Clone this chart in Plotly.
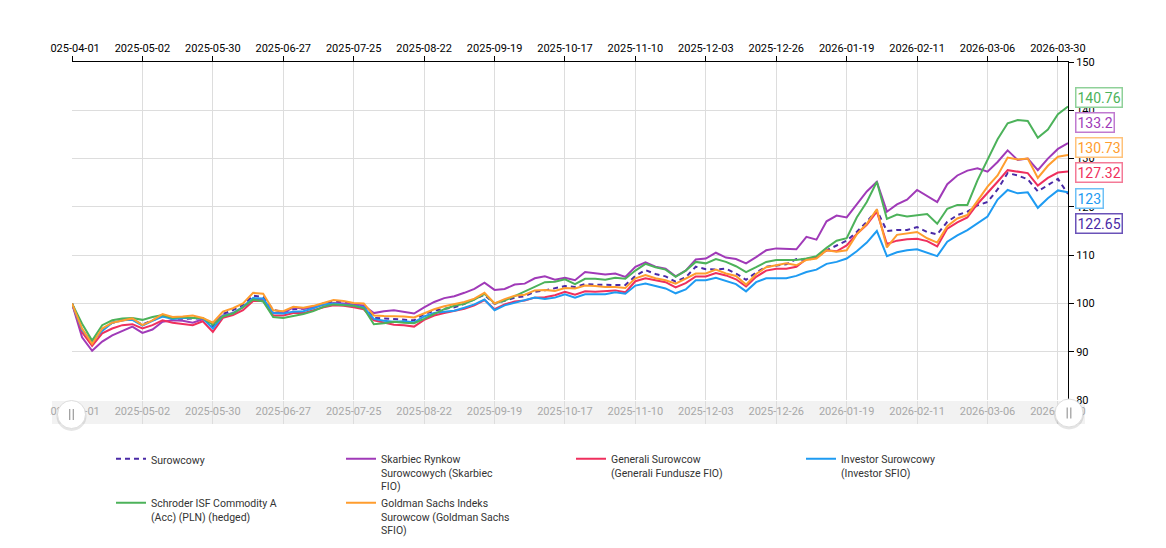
import pandas as pd
import plotly.graph_objects as go

# ---------------- data ----------------
tick_dates = ["2025-04-01", "2025-05-02", "2025-05-30", "2025-06-27", "2025-07-25",
              "2025-08-22", "2025-09-19", "2025-10-17", "2025-11-10", "2025-12-03",
              "2025-12-26", "2026-01-19", "2026-02-11", "2026-03-06", "2026-03-30"]

dates = []
for a, b in zip(tick_dates[:-1], tick_dates[1:]):
    dates += [d.strftime("%Y-%m-%d") for d in pd.date_range(a, b, periods=8)[:-1]]
dates += ["2026-03-30", "2026-03-31"]

surowcowy = [100.0, 94.5, 91.7, 94.5, 96.0, 96.5, 96.7, 95.6, 96.5, 97.4,
             96.8, 96.8, 96.8, 96.9, 95.3, 97.8, 98.6, 99.7, 101.6, 101.3,
             98.7, 98.2, 98.8, 98.9, 99.2, 100.0, 100.4, 100.2, 99.8, 99.5,
             97.0, 96.9, 96.8, 96.6, 96.5, 97.8, 98.5, 98.9, 99.2, 99.9,
             100.8, 101.8, 99.9, 100.6, 101.2, 101.5, 102.4, 102.7, 103.1, 103.6,
             103.4, 104.0, 103.9, 103.8, 103.8, 103.8, 105.7, 106.9, 106.1, 105.6,
             104.5, 105.4, 107.6, 107.1, 107.0, 107.2, 106.2, 104.9, 106.4, 107.6,
             107.9, 108.1, 109.2, 109.0, 109.5, 111.0, 112.0, 113.0, 114.8, 116.9,
             119.3, 115.0, 115.2, 115.2, 115.8, 114.8, 114.3, 116.9, 118.3, 119.0,
             120.3, 121.0, 123.6, 127.0, 126.5, 125.7, 123.2, 124.5, 125.8, 122.65]

skarbiec = [100.0, 93.0, 90.2, 92.1, 93.4, 94.3, 95.2, 93.9, 94.6, 96.2,
            96.5, 96.4, 96.0, 96.7, 95.8, 97.5, 98.0, 99.2, 101.0, 100.7,
            98.0, 98.0, 99.2, 98.9, 99.2, 99.7, 100.1, 100.0, 99.8, 99.6,
            98.0, 98.4, 98.6, 98.2, 97.9, 99.2, 100.3, 101.1, 101.5, 102.2,
            103.0, 104.3, 102.8, 103.0, 103.9, 104.1, 105.2, 105.6, 104.9, 105.3,
            104.8, 106.5, 106.2, 106.0, 106.2, 105.5, 107.6, 108.5, 107.6, 107.2,
            105.6, 106.8, 109.1, 109.3, 110.5, 109.5, 109.2, 108.3, 109.6, 111.0,
            111.4, 111.3, 111.2, 113.8, 113.2, 117.0, 118.2, 117.8, 120.5, 123.2,
            125.2, 119.0, 120.5, 121.5, 123.5, 122.2, 121.0, 124.7, 126.5, 127.5,
            128.0, 127.3, 129.3, 131.7, 129.7, 130.0, 127.6, 130.0, 132.0, 133.2]

generali = [100.0, 94.0, 91.2, 93.8, 94.8, 95.5, 95.7, 94.8, 95.5, 96.5,
            96.0, 95.8, 95.5, 96.3, 94.1, 97.0, 97.6, 98.6, 100.5, 100.5,
            97.5, 97.5, 98.0, 98.0, 98.6, 99.2, 99.6, 99.5, 99.2, 98.8,
            96.5, 96.0, 95.6, 95.5, 95.2, 96.6, 97.5, 98.0, 98.4, 98.9,
            99.6, 100.7, 98.8, 99.8, 100.4, 100.6, 101.2, 101.3, 101.7, 102.4,
            101.8, 102.5, 102.4, 102.5, 102.7, 102.3, 104.6, 105.2, 104.8, 104.4,
            103.3, 104.2, 105.6, 105.6, 106.3, 105.8, 105.0, 103.5, 105.5, 106.8,
            107.2, 107.2, 107.6, 109.2, 109.6, 111.0, 110.8, 112.0, 114.4, 116.3,
            119.0, 112.3, 113.0, 113.3, 113.4, 112.9, 111.8, 115.5, 116.8, 117.8,
            120.6, 122.8, 125.2, 127.6, 127.3, 127.0, 124.4, 126.0, 127.1, 127.32]

investor = [100.0, 94.5, 92.0, 94.3, 96.0, 96.5, 96.6, 95.4, 96.4, 97.3,
            96.8, 97.0, 97.0, 96.9, 94.8, 97.4, 98.0, 99.3, 101.1, 101.0,
            98.0, 97.9, 98.3, 98.4, 99.0, 99.8, 100.0, 99.8, 99.5, 99.2,
            96.8, 96.4, 96.2, 96.3, 96.1, 97.3, 98.0, 98.3, 98.5, 99.1,
            99.8, 100.8, 98.6, 99.6, 100.1, 100.6, 101.2, 100.9, 101.2, 101.9,
            101.2, 101.9, 101.9, 101.9, 102.3, 102.0, 103.7, 104.1, 103.6, 103.1,
            102.1, 102.9, 104.8, 104.8, 105.3, 104.6, 104.0, 102.5, 104.4, 105.2,
            105.2, 105.2, 105.7, 106.5, 107.0, 108.2, 108.6, 109.3, 110.8, 112.6,
            115.0, 109.8, 110.6, 111.0, 111.2, 110.5, 109.8, 112.8, 114.1, 115.2,
            116.6, 118.0, 121.5, 123.5, 122.8, 123.0, 119.8, 121.8, 123.4, 123.0]

schroder = [100.0, 95.8, 92.3, 95.5, 96.5, 96.9, 97.0, 96.6, 97.2, 97.6,
            97.0, 97.2, 97.0, 97.0, 95.6, 97.3, 97.9, 99.2, 100.8, 100.4,
            97.2, 97.0, 97.4, 97.8, 98.4, 99.3, 99.8, 99.6, 99.5, 99.0,
            95.7, 95.9, 96.2, 96.0, 95.9, 96.8, 97.8, 98.8, 99.5, 99.9,
            100.8, 102.0, 100.0, 100.6, 101.5, 102.5, 103.5, 104.4, 104.5, 105.0,
            104.0, 105.1, 105.1, 104.9, 105.3, 105.1, 106.8, 108.2, 107.5, 107.0,
            105.5, 106.8, 108.6, 108.3, 109.2, 108.6, 107.7, 106.5, 107.5, 108.6,
            109.0, 109.0, 109.0, 109.3, 109.8, 111.5, 113.0, 113.5, 117.8, 121.0,
            125.2, 117.5, 118.4, 118.0, 118.3, 118.5, 116.5, 119.6, 120.4, 120.4,
            125.5, 129.7, 134.0, 137.3, 138.0, 137.8, 134.3, 136.0, 139.2, 140.76]

goldman = [100.0, 94.8, 91.6, 94.8, 96.0, 96.5, 96.9, 95.5, 96.5, 97.8,
           97.2, 97.3, 97.5, 97.0, 96.0, 98.3, 99.0, 100.0, 102.2, 102.0,
           98.6, 98.4, 99.3, 99.1, 99.5, 100.1, 100.7, 100.5, 100.1, 100.0,
           97.5, 97.4, 97.4, 97.3, 97.1, 98.0, 98.8, 99.4, 99.8, 100.3,
           101.0, 102.2, 100.0, 100.9, 101.6, 101.8, 102.7, 102.8, 102.6, 103.2,
           103.1, 103.7, 103.6, 103.4, 103.4, 103.2, 105.2, 105.9, 105.2, 104.8,
           104.1, 105.1, 106.2, 106.2, 107.0, 106.2, 105.7, 103.9, 106.1, 107.5,
           107.9, 108.3, 107.9, 109.0, 109.3, 111.0, 110.7, 111.0, 114.3, 116.5,
           119.5, 111.6, 114.2, 114.5, 114.8, 113.5, 112.6, 116.0, 117.6, 118.3,
           121.3, 124.2, 126.5, 130.2, 129.8, 130.0, 126.0, 128.5, 130.4, 130.73]

series_names = ["Surowcowy",
                "Skarbiec Rynkow<br>Surowcowych (Skarbiec<br>FIO)",
                "Generali Surowcow<br>(Generali Fundusze FIO)",
                "Investor Surowcowy<br>(Investor SFIO)",
                "Schroder ISF Commodity A<br>(Acc) (PLN) (hedged)",
                "Goldman Sachs Indeks<br>Surowcow (Goldman Sachs<br>SFIO)"]
series_values = [surowcowy, skarbiec, generali, investor, schroder, goldman]

# ---------------- styles ----------------
line_colors = ["#4a2aa6", "#a03ab8", "#ef2f5d", "#1e9bf2", "#4cb25a", "#ff9d2e"]
box_borders = ["#6a52b8", "#c07ad0", "#f47a97", "#6ec0f6", "#8fd199", "#ffc27a"]
dashes = ["5px,4px", "solid", "solid", "solid", "solid", "solid"]

W_FIG, H_FIG = 1166, 548
L, R, T, B = 72, 1068, 62, 424          # plot region in px
PW, PH = R - L, B - T


def px(xp):
    return (xp - L) / PW


def py(yp):
    return (B - yp) / PH


fig = go.Figure()
for name, vals, col, dsh in zip(series_names, series_values, line_colors, dashes):
    fig.add_trace(go.Scatter(x=dates, y=vals, name=name, mode="lines",
                             line=dict(color=col, width=2, dash=dsh),
                             xaxis="x", yaxis="y"))

# navigator band labels
fig.add_trace(go.Scatter(x=tick_dates, y=[0.5] * len(tick_dates), text=tick_dates,
                         mode="text", textfont=dict(color="#a8a8a8", size=11, family="Roboto"),
                         showlegend=False, hoverinfo="skip", cliponaxis=False,
                         xaxis="x", yaxis="y2"))

shapes = [
    dict(type="rect", xref="paper", yref="paper", x0=px(52), x1=px(1085),
         y0=py(424), y1=py(401), fillcolor="#f2f2f2", line=dict(width=0), layer="below"),
    dict(type="rect", xref="paper", yref="paper", x0=px(0), x1=px(50),
         y0=py(548), y1=py(0), fillcolor="white", line=dict(width=0), layer="above"),
]
for cx, cy in [(71.5, 414.5), (1069, 413)]:
    shapes.append(dict(type="circle", xref="paper", yref="paper",
                       x0=px(cx - 15), x1=px(cx + 15), y0=py(cy + 16.5), y1=py(cy - 13.5),
                       fillcolor="rgba(0,0,0,0.10)", line=dict(width=0), layer="above"))
    shapes.append(dict(type="circle", xref="paper", yref="paper",
                       x0=px(cx - 14), x1=px(cx + 14), y0=py(cy + 14), y1=py(cy - 14),
                       fillcolor="white", line=dict(color="#dddddd", width=1), layer="above"))
    for dx in (-1.8, 1.8):
        shapes.append(dict(type="line", xref="paper", yref="paper",
                           x0=px(cx + dx), x1=px(cx + dx), y0=py(cy + 5.5), y1=py(cy - 5.5),
                           line=dict(color="#9a9a9a", width=1.2), layer="above"))

# last value labels (sorted by value, stacked)
order = sorted(range(len(series_values)), key=lambda k: -series_values[k][-1])
label_y = [97, 122.5, 147.5, 172.5, 198, 223]
annotations = []
for pos, k in zip(label_y, order):
    annotations.append(dict(xref="paper", yref="paper", x=px(1075), y=py(pos),
                            xanchor="left", yanchor="middle", showarrow=False,
                            text=f"{series_values[k][-1]:g}",
                            font=dict(color=line_colors[k], size=14, family="Roboto"),
                            bgcolor="white", bordercolor=box_borders[k], borderwidth=1.5,
                            borderpad=1))

fig.update_layout(
    width=W_FIG, height=H_FIG,
    margin=dict(l=L, r=W_FIG - R, t=T, b=H_FIG - B, pad=0, autoexpand=False),
    paper_bgcolor="white", plot_bgcolor="white",
    font=dict(family="Roboto", size=11, color="#000"),
    xaxis=dict(type="category", side="top", range=[0, len(dates) - 1],
               tickvals=tick_dates, ticktext=tick_dates,
               showline=True, linecolor="#000", linewidth=1,
               ticks="outside", ticklen=5, tickcolor="#000",
               showgrid=True, gridcolor="#dddddd", gridwidth=1,
               tickfont=dict(size=11, color="#000"), anchor="y", fixedrange=True),
    yaxis=dict(domain=[py(400), 1], range=[80, 150], dtick=10, side="right",
               showline=True, linecolor="#000", linewidth=1,
               ticks="outside", ticklen=5, tickcolor="#000",
               showgrid=True, gridcolor="#dddddd", gridwidth=1, zeroline=False,
               tickfont=dict(size=11, color="#000"), anchor="x", fixedrange=True),
    yaxis2=dict(domain=[0, py(401)], range=[0, 1], showgrid=False, zeroline=False,
                showticklabels=False, showline=False, anchor="x", fixedrange=True),
    legend=dict(orientation="h", x=px(111), y=py(445.5), xanchor="left", yanchor="top",
                entrywidth=185, entrywidthmode="pixels", valign="top",
                font=dict(size=10.5, color="#333", family="Roboto"),
                itemwidth=30, traceorder="normal", bgcolor="rgba(0,0,0,0)"),
    shapes=shapes,
    annotations=annotations,
    showlegend=True,
)

fig.write_html("out.html")
